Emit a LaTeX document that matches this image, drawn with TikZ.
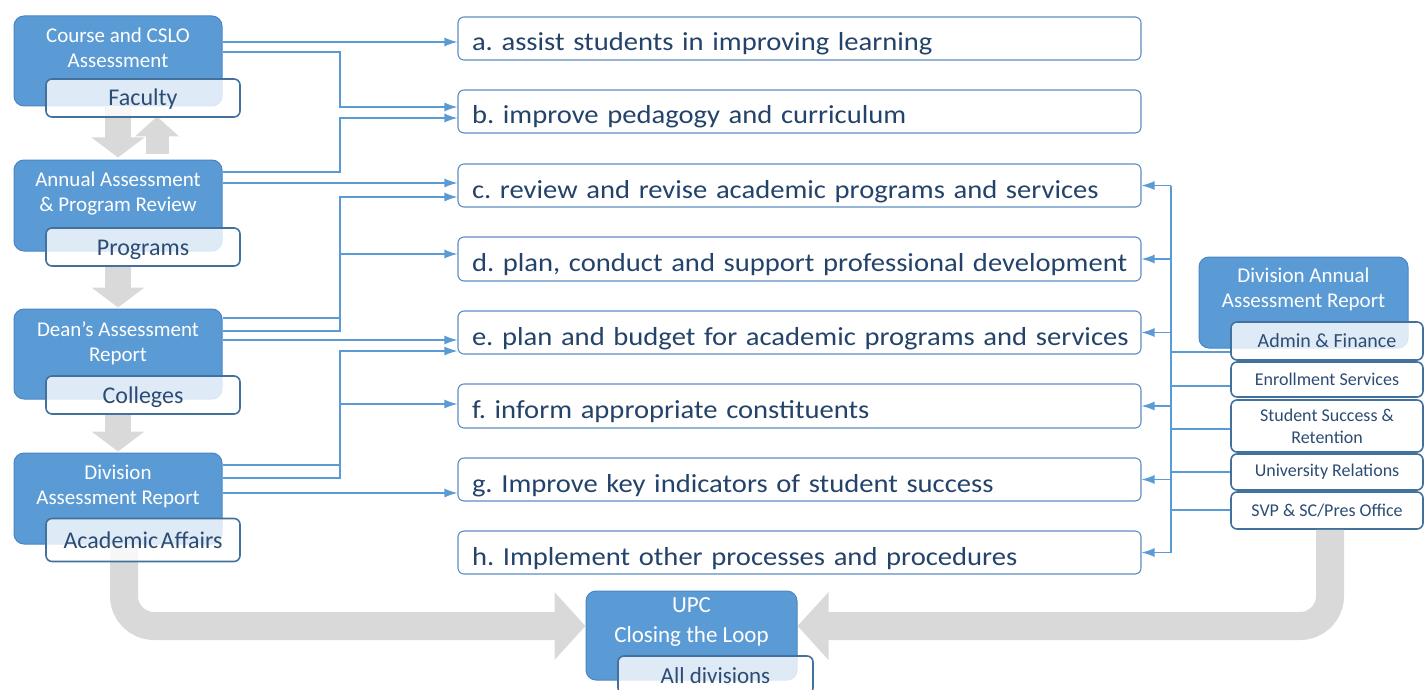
\documentclass[tikz,border=0pt]{standalone}
\usepackage{fontspec}
\setmainfont{Carlito}
\newfontfamily\goalfont{Carlito}[FakeStretch=1.10,WordSpace=0.72]
\usetikzlibrary{arrows.meta,calc}
\definecolor{boxblue}{HTML}{5B9BD5}
\definecolor{boxedge}{HTML}{4A86C5}
\definecolor{subedge}{HTML}{41719C}
\definecolor{subtext}{HTML}{2C4C74}
\definecolor{goaledge}{HTML}{5D8DC3}
\definecolor{goaltext}{HTML}{24436B}
\definecolor{linkblue}{HTML}{5B9BD5}
\definecolor{flowgray}{HTML}{D9D9D9}
\begin{document}
\begin{tikzpicture}[x=1pt,y=-1pt,
  bluebox/.style={draw=boxedge, line width=1pt, fill=boxblue, rounded corners=10pt, inner sep=0pt},
  bluetext/.style={text=white, align=center, font=\fontsize{21}{25}\selectfont, inner sep=0pt},
  subbox/.style={draw=subedge, line width=1.6pt, fill=white, fill opacity=0.8, draw opacity=1,
    text opacity=1, text=subtext, rounded corners=6pt, inner sep=0pt, align=center},
  tagtext/.style={text height=19pt, text depth=3pt, font=\fontsize{24}{27}\selectfont},
  goal/.style={draw=goaledge, line width=1.1pt, fill=white, rounded corners=6pt,
    minimum width=683pt, minimum height=43pt, text width=655pt, align=left, inner sep=0pt,
    text height=30pt, text depth=5pt,
    text=goaltext, font=\goalfont\fontsize{26}{30}\selectfont\frenchspacing},
  link/.style={draw=linkblue, line width=1.3pt},
  arrowlink/.style={link, -{Latex[length=13pt,width=9pt]}},
  flow/.style={draw=flowgray, line width=26pt, -{Triangle[length=20pt,width=52pt]}},
  bigflow/.style={draw=flowgray, line width=28pt, rounded corners=30pt, -{Triangle[length=31pt,width=66pt]}},
]
\useasboundingbox (0,0) rectangle (1424,690);

% ---------- left column: assessment levels ----------
\node[bluebox, minimum width=208pt, minimum height=90pt] (b1) at (118,61) {};
\node[bluebox, minimum width=208pt, minimum height=91pt] (b2) at (118,205.5) {};
\node[bluebox, minimum width=208pt, minimum height=90pt] (b3) at (118,354) {};
\node[bluebox, minimum width=208pt, minimum height=91pt] (b4) at (118,498.5) {};

% ---------- right: division report ----------
\node[bluebox, minimum width=209pt, minimum height=91pt] (da) at (1303.5,302.5) {};

% ---------- bottom: UPC ----------
\node[bluebox, minimum width=211pt, minimum height=89pt] (upc) at (691.5,635.5) {};

% ---------- grey flow arrows (behind the labels) ----------
\draw[flow] (b1.south) -- ([yshift=2pt]b2.north);
\draw[flow, line width=23pt, -{Triangle[length=20pt,width=43pt]}]
  ($(b2.north)+(39,-5)$) -- ($(b1.south)+(39,10)$);
\draw[flow] ([yshift=-15pt]b2.south) -- ([yshift=1pt]b3.north);
\draw[flow] ([yshift=-15pt]b3.south) -- ([yshift=1pt]b4.north);
\draw[bigflow] ($(b4.south)+(6,0)$) -- (124,626) -- (upc.west|-0,626);

% ---------- text of the blue boxes ----------
\node[bluetext] (b1t) at (118,47.5) {Course and CSLO\\Assessment};
\node[bluetext] (b2t) at (118,194) {Annual Assessment\\\&{} Program Review};
\node[bluetext] (b3t) at (118,343.5) {Dean’s Assessment\\Report};
\node[bluetext] (b4t) at (118,486.5) {Division\\Assessment Report};
\node[bluetext] (dat) at (1303.5,289.5) {Division Annual\\Assessment Report};
\node[bluetext, font=\fontsize{23}{30}\selectfont] (upct) at (691.5,622) {UPC\\Closing the Loop};

% ---------- owner tags ----------
\node[subbox, tagtext, minimum width=194pt, minimum height=38pt] (fac) at (143,98) {Faculty};
\node[subbox, tagtext, minimum width=194pt, minimum height=38pt] (prg) at (143,247) {Programs};
\node[subbox, tagtext, minimum width=194pt, minimum height=38pt] (col) at (143,395) {Colleges};
\node[subbox, tagtext, minimum width=194pt, minimum height=43pt] (aca) at (143,540) {Academic\hspace{0.1em}Affairs};
\node[subbox, tagtext, minimum width=195pt, minimum height=38pt, font=\fontsize{23}{27}\selectfont] (alld) at (715.5,675) {All divisions};

\node[subbox, minimum width=192pt, minimum height=38pt, font=\fontsize{20}{24}\selectfont] (af) at (1327,341) {Admin \& Finance};
\node[subbox, minimum width=192pt, minimum height=35pt, font=\fontsize{18}{22}\selectfont] (es) at (1327,379.5) {Enrollment Services};
\node[subbox, minimum width=192pt, minimum height=52pt, font=\fontsize{18}{22}\selectfont] (ss) at (1327,426) {Student Success \&\\Retention};
\node[subbox, minimum width=192pt, minimum height=36pt, font=\fontsize{18}{22}\selectfont] (ur) at (1327,472) {University Relations};
\node[subbox, minimum width=192pt, minimum height=37pt, font=\fontsize{18}{22}\selectfont] (svp) at (1327,510.5) {SVP \& SC/Pres Office};

\draw[bigflow] ($(svp.south)+(3,0)$) -- (1330,626) -- (upc.east|-0,626);

% ---------- uses of assessment results ----------
\node[goal] (ga) at (799.5,38.5) {\mbox{a. assist students in improving learning}};
\node[goal] (gb) at (799.5,111.5) {\mbox{b. improve pedagogy and curriculum}};
\node[goal] (gc) at (799.5,185.5) {\mbox{c. review and revise academic programs and services}};
\node[goal, minimum height=44pt] (gd) at (799.5,259) {\mbox{d. plan, conduct and support professional development}};
\node[goal] (ge) at (799.5,332.5) {\mbox{e. plan and budget for academic programs and services}};
\node[goal, minimum height=44pt] (gf) at (799.5,406) {\mbox{f. inform appropriate constituents}};
\node[goal] (gg) at (799.5,479.5) {\mbox{g. Improve key indicators of student success}};
\node[goal] (gh) at (799.5,552.5) {\mbox{h. Implement other processes and procedures}};

% ---------- links from the assessment levels ----------
\draw[arrowlink] (b1.east|-0,42) -- (ga.west|-0,42);
\draw[arrowlink] (b1.east|-0,52) -- (340,52) -- (340,107) -- (gb.west|-0,107);
\draw[arrowlink] (b2.east|-0,172) -- (340,172) -- (340,118) -- (gb.west|-0,118);
\draw[arrowlink] (b2.east|-0,183) -- (gc.west|-0,183);
\draw[link] (b3.east|-0,318) -- (340,318);
\draw[arrowlink] (b3.east|-0,331) -- (340,331) -- (340,197) -- (gc.west|-0,197);
\draw[arrowlink] (340,254) -- (gd.west|-0,254);
\draw[arrowlink] (b3.east|-0,340) -- (ge.west|-0,340);
\draw[link] (b4.east|-0,465) -- (340,465);
\draw[arrowlink] (b4.east|-0,478) -- (340,478) -- (340,351) -- (ge.west|-0,351);
\draw[arrowlink] (340,404) -- (gf.west|-0,404);
\draw[arrowlink] (b4.east|-0,493) -- (gg.west|-0,493);

% ---------- links from the divisions ----------
\coordinate (bus1) at (1171,185.5);
\coordinate (bus2) at (1171,552.5);
\draw[link] (bus1) -- (bus2);
\foreach \g in {gc,gd,ge,gf,gg,gh}
  \draw[arrowlink] (bus1|-\g.east) -- (\g.east);
\foreach \s/\y in {af/352, es/386, ss/429, ur/472, svp/510}
  \draw[link] (\s.west|-0,\y) -- (bus1|-0,\y);
\end{tikzpicture}
\end{document}
